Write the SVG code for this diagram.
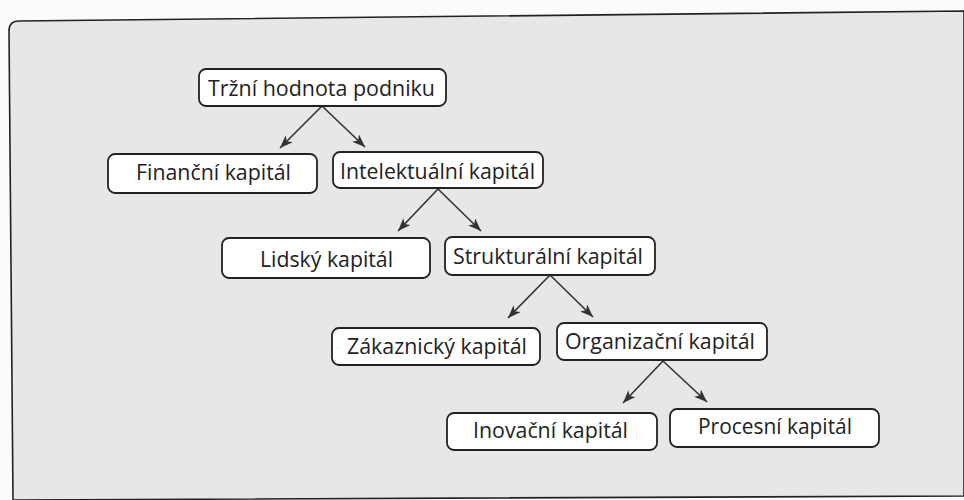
<svg xmlns="http://www.w3.org/2000/svg" width="964" height="500" viewBox="0 0 964 500">
<defs>
<marker id="ah" markerUnits="userSpaceOnUse" markerWidth="14" markerHeight="12" refX="13" refY="5" orient="auto">
<path d="M0,0 L13,5 L0,10 L3.5,5 Z" fill="#333"/>
</marker>
</defs>
<style>
.box{fill:#ffffff;stroke:#222;stroke-width:1.8}
.lbl{font-family:"Open Sans","Noto Sans","Liberation Sans",sans-serif;font-size:22.5px;fill:#222}
.con{stroke:#333;stroke-width:1.6;fill:none;marker-end:url(#ah)}
</style>
<rect x="0" y="0" width="964" height="500" fill="#fbfbfb"/>
<path d="M9,31 Q9,21 19,21 L964,11 L964,496 L13,500 Z" fill="#e7e7e7" stroke="#222" stroke-width="1.6"/>
<g id="connectors">
<line class="con" x1="322" y1="106" x2="280" y2="148"/>
<line class="con" x1="322" y1="106" x2="365" y2="147"/>
<line class="con" x1="438" y1="189" x2="398" y2="231"/>
<line class="con" x1="438" y1="189" x2="481" y2="231"/>
<line class="con" x1="550" y1="275" x2="508" y2="318"/>
<line class="con" x1="550" y1="275" x2="593" y2="317"/>
<line class="con" x1="663" y1="361" x2="623" y2="403"/>
<line class="con" x1="663" y1="361" x2="707" y2="402"/>
</g>
<g id="n-trzni">
<rect class="box" x="199" y="69" width="247" height="37" rx="7"/>
<text class="lbl" x="208" y="96" textLength="227" lengthAdjust="spacingAndGlyphs">Tržní hodnota podniku</text>
</g>
<g id="n-financni">
<rect class="box" x="108" y="154" width="209" height="39" rx="7"/>
<text class="lbl" x="136" y="180" textLength="155" lengthAdjust="spacingAndGlyphs">Finanční kapitál</text>
</g>
<g id="n-intelektualni">
<rect class="box" x="333" y="152" width="210" height="36" rx="7"/>
<text class="lbl" x="340" y="179" textLength="195" lengthAdjust="spacingAndGlyphs">Intelektuální kapitál</text>
</g>
<g id="n-lidsky">
<rect class="box" x="222" y="238" width="208" height="40" rx="7"/>
<text class="lbl" x="260" y="267" textLength="133" lengthAdjust="spacingAndGlyphs">Lidský kapitál</text>
</g>
<g id="n-strukturalni">
<rect class="box" x="445" y="237" width="210" height="38" rx="7"/>
<text class="lbl" x="453" y="264" textLength="190" lengthAdjust="spacingAndGlyphs">Strukturální kapitál</text>
</g>
<g id="n-zakaznicky">
<rect class="box" x="332" y="328" width="208" height="37" rx="7"/>
<text class="lbl" x="347" y="354" textLength="180" lengthAdjust="spacingAndGlyphs">Zákaznický kapitál</text>
</g>
<g id="n-organizacni">
<rect class="box" x="557" y="323" width="210" height="37" rx="7"/>
<text class="lbl" x="565" y="349" textLength="190" lengthAdjust="spacingAndGlyphs">Organizační kapitál</text>
</g>
<g id="n-inovacni">
<rect class="box" x="447" y="413" width="210" height="37" rx="7"/>
<text class="lbl" x="473" y="438" textLength="155" lengthAdjust="spacingAndGlyphs">Inovační kapitál</text>
</g>
<g id="n-procesni">
<rect class="box" x="670" y="409" width="209" height="38" rx="7"/>
<text class="lbl" x="698" y="434" textLength="154" lengthAdjust="spacingAndGlyphs">Procesní kapitál</text>
</g>
</svg>
